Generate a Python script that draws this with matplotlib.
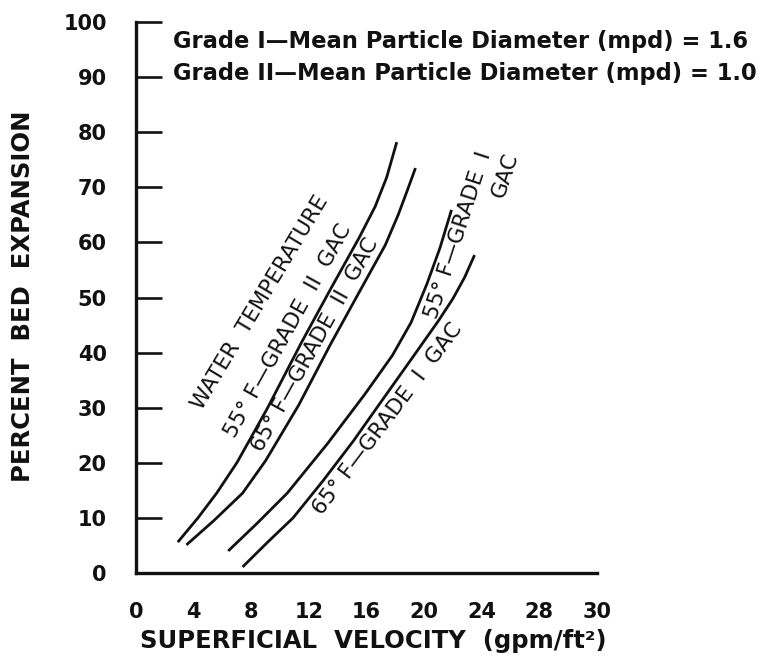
import matplotlib
matplotlib.use("Agg")
import matplotlib.pyplot as plt

# ---------------- data ----------------
x_tick_pos = [0, 4, 8, 12, 16, 20, 24, 28, 32]
x_tick_labels = ["0", "4", "8", "12", "16", "20", "24", "28", "30"]
x_tick_marks = [12, 16, 20, 24, 28, 32]
y_ticks = [0, 10, 20, 30, 40, 50, 60, 70, 80, 90, 100]

# 55 F - Grade II GAC
g2_55_x = [2.9, 4.3, 5.6, 7.0, 9.1, 11.5, 13.5, 15.5, 16.6, 17.4, 18.1]
g2_55_y = [5.6, 10.0, 14.5, 20.0, 29.8, 41.9, 51.5, 60.9, 66.5, 71.8, 78.2]
# 65 F - Grade II GAC
g2_65_x = [3.5, 5.4, 7.4, 9.0, 11.3, 13.5, 15.5, 17.3, 18.2, 18.8, 19.4]
g2_65_y = [5.1, 9.5, 14.5, 20.4, 30.5, 41.5, 51.0, 59.5, 65.0, 69.2, 73.5]
# 55 F - Grade I GAC
g1_55_x = [6.4, 8.4, 10.5, 13.3, 15.9, 17.8, 19.1, 20.2, 21.1, 21.9]
g1_55_y = [4.0, 9.0, 14.5, 23.5, 32.5, 39.5, 45.5, 52.5, 59.0, 65.9]
# 65 F - Grade I GAC
g1_65_x = [7.4, 9.1, 10.9, 13.0, 15.1, 17.1, 19.3, 21.0, 22.0, 22.8, 23.5]
g1_65_y = [1.1, 5.5, 10.0, 16.8, 24.0, 31.4, 39.5, 45.8, 49.8, 53.6, 57.7]

legend_lines = ["Grade I\u2014Mean Particle Diameter (mpd) = 1.6",
                "Grade II\u2014Mean Particle Diameter (mpd) = 1.0"]
x_label = "SUPERFICIAL  VELOCITY  (gpm/ft\u00b2)"
y_label = "PERCENT  BED  EXPANSION"

# ---------------- figure ----------------
W, H = 762, 658
fig = plt.figure(figsize=(W / 100, H / 100), dpi=100)
fig.patch.set_facecolor("white")
ax = fig.add_axes([136 / W, 85 / H, 461 / W, 551 / H])
ax.set_xlim(0, 32)
ax.set_ylim(0, 100)
ax.patch.set_alpha(0)

ink = "#111111"
for s in ["top", "right"]:
    ax.spines[s].set_visible(False)
for s in ["left", "bottom"]:
    ax.spines[s].set_linewidth(2.4)
    ax.spines[s].set_color(ink)

tick_font = dict(fontsize=15, fontweight="bold", color=ink)
ax.set_xticks(x_tick_pos)
ax.set_xticklabels(x_tick_labels, **tick_font)
ax.set_xticks(x_tick_marks, minor=True)
ax.tick_params(axis="x", which="major", length=0, pad=21)
ax.tick_params(axis="x", which="minor", direction="in", length=18.5,
               width=1.9, color=ink)
ax.set_yticks(y_ticks)
ax.set_yticklabels([str(v) for v in y_ticks], **tick_font)
ax.tick_params(axis="y", which="major", direction="in", length=18.5,
               width=1.9, color=ink, pad=21)

lw = 2.0
for xs, ys in [(g2_55_x, g2_55_y), (g2_65_x, g2_65_y),
               (g1_55_x, g1_55_y), (g1_65_x, g1_65_y)]:
    ax.plot(xs, ys, color=ink, lw=lw, solid_capstyle="butt",
            solid_joinstyle="round")

lab = dict(color=ink, rotation_mode="anchor", ha="center", va="center",
           fontsize=15.5)
ax.text(8.6, 49.0, "WATER  TEMPERATURE", rotation=59, **lab)
ax.text(10.57, 43.9, "55\u00b0 F\u2014GRADE  II  GAC", rotation=61, **lab)
ax.text(12.42, 41.4, "65\u00b0 F\u2014GRADE  II  GAC", rotation=61, **lab)
ax.text(22.35, 61.3, "55\u00b0 F\u2014GRADE  I", rotation=72, **lab)
ax.text(25.6, 72.2, "GAC", rotation=72, **lab)
ax.text(17.49, 27.9, "65\u00b0 F\u2014GRADE  I  GAC", rotation=53, **lab)

leg = dict(fontsize=16.3, fontweight="bold", color=ink, ha="left", va="center")
ax.text(2.57, 96.4, legend_lines[0], **leg)
ax.text(2.57, 90.7, legend_lines[1], **leg)

fig.text(373 / W, 1 - 641 / H, x_label, fontsize=17.5, fontweight="bold",
         color=ink, ha="center", va="center")
fig.text(23 / W, 1 - 296 / H, y_label, fontsize=17.5, fontweight="bold",
         color=ink, ha="center", va="center", rotation=90)

fig.savefig("out.png", dpi=100, facecolor="white")
